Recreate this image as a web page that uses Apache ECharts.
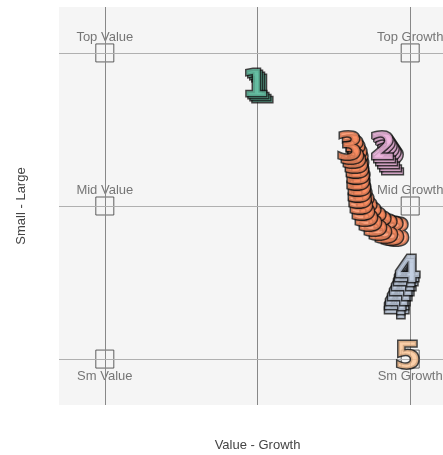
<!DOCTYPE html>
<html>
<head>
<meta charset="utf-8">
<script src="https://cdn.jsdelivr.net/npm/echarts@6/dist/echarts.min.js"></script>
<style>
  html, body { margin: 0; padding: 0; background: #fff; }
  #chart { width: 443px; height: 455px; }
</style>
</head>
<body>
<div id="chart"></div>
<script>
// style box cells: [x, y, label, label side]
var boxCells = [
  [-1, 1, 'Top Value', 'top'], [1, 1, 'Top Growth', 'top'],
  [-1, 0, 'Mid Value', 'top'], [1, 0, 'Mid Growth', 'top'],
  [-1, -1, 'Sm Value', 'bottom'], [1, -1, 'Sm Growth', 'bottom']
]
var gridLines = [-1, 0, 1]

// trails, oldest first, last point = current position
var trail1 = [[0.026, 0.741], [0.013, 0.754], [0.0, 0.767], [-0.013, 0.780]]
var trail2 = [[0.885, 0.275], [0.872, 0.295], [0.859, 0.315], [0.846, 0.334], [0.833, 0.354], [0.820, 0.374]]
var trail3 = [[0.918, -0.190], [0.885, -0.184], [0.846, -0.170], [0.807, -0.151], [0.774, -0.125],
  [0.741, -0.092], [0.715, -0.059], [0.695, -0.020], [0.682, 0.020], [0.675, 0.059],
  [0.669, 0.098], [0.669, 0.138], [0.662, 0.177], [0.662, 0.216], [0.656, 0.256],
  [0.649, 0.289], [0.636, 0.321], [0.623, 0.348], [0.603, 0.374]]
var trail4 = [[0.911, -0.669], [0.911, -0.643], [0.918, -0.616], [0.931, -0.584], [0.944, -0.551],
  [0.957, -0.518], [0.970, -0.485], [0.977, -0.459], [0.984, -0.433]]
var trail5 = [[0.984, -0.997]]

var fundNames = ['1', '2', '3', '4', '5']
var fundColors = ['#66c2a5', '#f2b9e2', '#fc8d62', '#c3cfe2', '#fdc596']
var trails = [trail1, trail2, trail3, trail4, trail5]

var chart = echarts.init(document.getElementById('chart'))

var series = [
  {
    type: 'scatter',
    symbol: 'rect',
    symbolSize: 18,
    z: 3,
    itemStyle: { color: 'rgba(0,0,0,0)', borderColor: '#3a3a3a', borderWidth: 1 },
    data: boxCells.map(function (c) {
      return {
        value: [c[0], c[1]],
        label: {
          show: true,
          position: c[3],
          distance: c[3] === 'top' ? 0 : 1,
          formatter: c[2],
          color: '#555',
          fontSize: 13,
          lineHeight: 13,
          fontFamily: 'Liberation Sans'
        }
      }
    }),
    markLine: {
      silent: true,
      symbol: 'none',
      label: { show: false },
      data: gridLines.map(function (v) {
        return { xAxis: v, lineStyle: { color: '#888', width: 1, type: 'solid' } }
      }).concat(gridLines.map(function (v) {
        return { yAxis: v, lineStyle: { color: '#b0b0b0', width: 1, type: 'solid' } }
      }))
    }
  }
]

trails.forEach(function (t, i) {
  series.push({
    type: 'scatter',
    name: fundNames[i],
    symbolSize: 1,
    z: 10 + i,
    itemStyle: { color: 'rgba(0,0,0,0)' },
    label: {
      show: true,
      position: 'inside',
      formatter: fundNames[i],
      color: fundColors[i],
      fontSize: 38,
      fontWeight: 'bold',
      fontFamily: 'DejaVu Sans',
      textBorderColor: '#111',
      textBorderWidth: 3
    },
    data: t
  })
})

chart.setOption({
  animation: false,
  grid: {
    left: 59, top: 7, width: 397, height: 398,
    outerBoundsMode: 'none', containLabel: false,
    backgroundColor: '#f5f5f5', show: true, borderWidth: 0
  },
  xAxis: {
    type: 'value',
    min: -1.3,
    max: 1.3,
    name: 'Value - Growth',
    nameLocation: 'middle',
    nameGap: 34,
    nameTextStyle: { color: '#444', fontSize: 13, fontFamily: 'Liberation Sans' },
    axisLine: { show: false },
    axisTick: { show: false },
    axisLabel: { show: false },
    splitLine: { show: false }
  },
  yAxis: {
    type: 'value',
    min: -1.3,
    max: 1.3,
    name: 'Small - Large',
    nameLocation: 'middle',
    nameGap: 31,
    nameTextStyle: { color: '#444', fontSize: 13, fontFamily: 'Liberation Sans' },
    axisLine: { show: false },
    axisTick: { show: false },
    axisLabel: { show: false },
    splitLine: { show: false }
  },
  series: series
})
</script>
</body>
</html>
